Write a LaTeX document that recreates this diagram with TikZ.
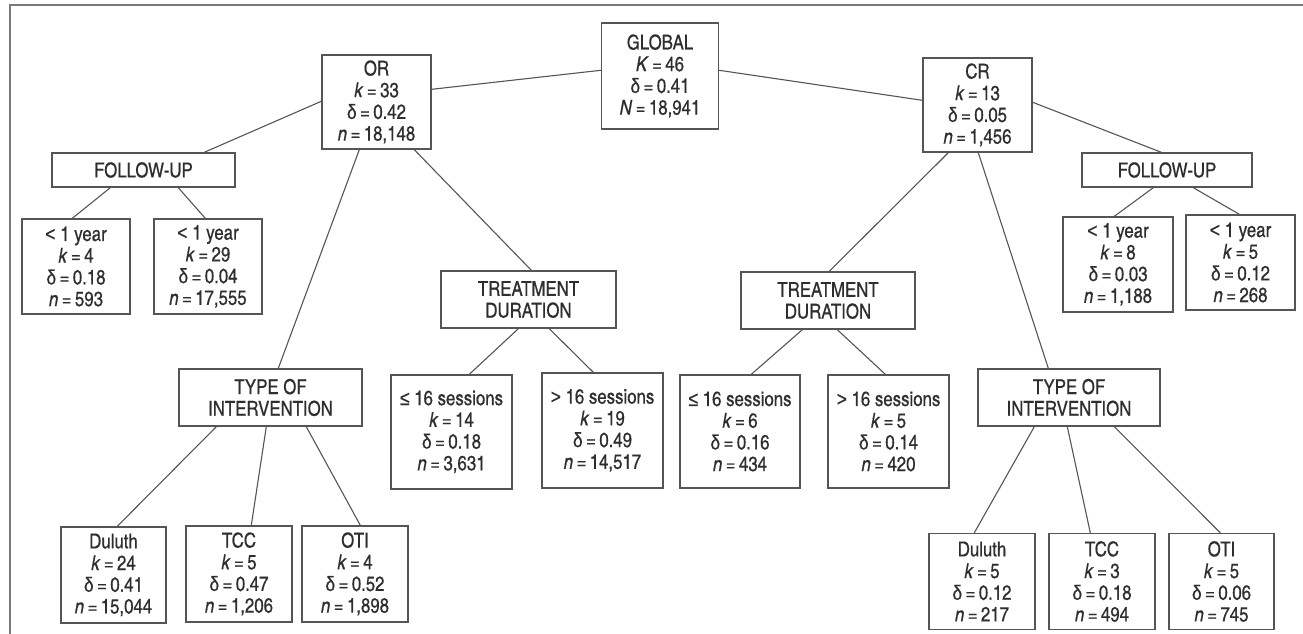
\documentclass[tikz,border=0pt]{standalone}
\usepackage{fontspec}
\setmainfont{texgyreheroscn}[Extension=.otf, UprightFont=*-regular, ItalicFont=*-italic, BoldFont=*-bold, UprightFeatures={FakeBold=0.5}, ItalicFeatures={FakeBold=0.5}]
\newfontfamily\symf{Liberation Sans}[FakeStretch=0.85, FakeBold=0.5]
\usetikzlibrary{calc}
\definecolor{txt}{HTML}{2E2E2E}
\definecolor{ln}{HTML}{555555}
\definecolor{frm}{HTML}{7A7A7A}
\tikzset{
  box/.style={draw=ln, line width=1.4pt, fill=white, inner sep=0pt, align=center, text=txt,
    font=\fontsize{20.5}{21.7}\selectfont},
  conn/.style={draw=ln, line width=1.1pt},
  frame/.style={draw=frm, line width=1.5pt}
}
\newcommand\kv[2]{\textit{#1}\,=\,#2}
\newcommand\dv[1]{{\symf δ}\,=\,#1}
\newcommand\lefour{{\symf ≤}}
\newcommand\lt{{\symf <}}
\newcommand\gt{{\symf >}}
\begin{document}
\begin{tikzpicture}[x=1pt,y=-1pt]
\useasboundingbox (0,0) rectangle (1303,634);
\draw[frame] (10,634) -- (10,5) -- (1303,5);

% root
\node[box, minimum width=117pt, minimum height=106pt] (glob) at (660,76) {GLOBAL\\\kv{K}{46}\\\dv{0.41}\\\kv{N}{18,941}};
% OR side
\node[box, minimum width=109pt, minimum height=94pt] (or) at (376.5,102) {OR\\\kv{k}{33}\\\dv{0.42}\\\kv{n}{18,148}};
\node[box, minimum width=183pt, minimum height=34pt] (fuL) at (143.5,170) {FOLLOW-UP};
\node[box, minimum width=108pt, minimum height=95pt] (y1L) at (76,266.5) {\lt\ 1 year\\\kv{k}{4}\\\dv{0.18}\\\kv{n}{593}};
\node[box, minimum width=108pt, minimum height=95pt] (y2L) at (208,266.5) {\lt\ 1 year\\\kv{k}{29}\\\dv{0.04}\\\kv{n}{17,555}};
\node[box, minimum width=175pt, minimum height=57pt] (tdL) at (528.5,299.5) {TREATMENT\\DURATION};
\node[box, minimum width=121pt, minimum height=114pt] (s1L) at (451.5,432) {\lefour\ 16 sessions\\\kv{k}{14}\\\dv{0.18}\\\kv{n}{3,631}};
\node[box, minimum width=121pt, minimum height=115pt] (s2L) at (602.5,430.5) {\gt\ 16 sessions\\\kv{k}{19}\\\dv{0.49}\\\kv{n}{14,517}};
\node[box, minimum width=183pt, minimum height=57pt] (toL) at (270.5,397.5) {TYPE OF\\INTERVENTION};
\node[box, minimum width=105pt, minimum height=96pt] (duL) at (113.5,575) {Duluth\\\kv{k}{24}\\\dv{0.41}\\\kv{n}{15,044}};
\node[box, minimum width=106pt, minimum height=96pt] (tcL) at (239,574) {TCC\\\kv{k}{5}\\\dv{0.47}\\\kv{n}{1,206}};
\node[box, minimum width=106pt, minimum height=96pt] (otL) at (355,574) {OTI\\\kv{k}{4}\\\dv{0.52}\\\kv{n}{1,898}};
% CR side
\node[box, minimum width=109pt, minimum height=94pt] (cr) at (977.5,105) {CR\\\kv{k}{13}\\\dv{0.05}\\\kv{n}{1,456}};
\node[box, minimum width=174pt, minimum height=57pt] (tdR) at (828,300.5) {TREATMENT\\DURATION};
\node[box, minimum width=120pt, minimum height=113pt] (s1R) at (740,431.5) {\lefour\ 16 sessions\\\kv{k}{6}\\\dv{0.16}\\\kv{n}{434}};
\node[box, minimum width=121pt, minimum height=113pt] (s2R) at (888.5,431.5) {\gt\ 16 sessions\\\kv{k}{5}\\\dv{0.14}\\\kv{n}{420}};
\node[box, minimum width=170pt, minimum height=34pt] (fuR) at (1167,170) {FOLLOW-UP};
\node[box, minimum width=110pt, minimum height=95pt] (y1R) at (1118,264.5) {\lt\ 1 year\\\kv{k}{8}\\\dv{0.03}\\\kv{n}{1,188}};
\node[box, minimum width=109pt, minimum height=95pt] (y2R) at (1240.5,262.5) {\lt\ 1 year\\\kv{k}{5}\\\dv{0.12}\\\kv{n}{268}};
\node[box, minimum width=182pt, minimum height=57pt] (toR) at (1069,397.5) {TYPE OF\\INTERVENTION};
\node[box, minimum width=106pt, minimum height=96pt] (duR) at (982,581.5) {Duluth\\\kv{k}{5}\\\dv{0.12}\\\kv{n}{217}};
\node[box, minimum width=106pt, minimum height=96pt] (tcR) at (1102,581.5) {TCC\\\kv{k}{3}\\\dv{0.18}\\\kv{n}{494}};
\node[box, minimum width=105pt, minimum height=96pt] (otR) at (1221.5,581.5) {OTI\\\kv{k}{5}\\\dv{0.06}\\\kv{n}{745}};

% connectors
\draw[conn] ($(glob.north west)+(0,48)$) -- ($(or.north east)+(0,35)$);
\draw[conn] ($(glob.north east)+(0,48)$) -- ($(cr.north west)+(0,43)$);
\draw[conn] ($(or.north west)+(0,47)$) -- ($(fuL.north west)+(153,0)$);
\draw[conn] ($(fuL.south west)+(59,0)$) -- ($(y1L.north west)+(51,0)$);
\draw[conn] ($(fuL.south west)+(127,0)$) -- ($(y2L.north west)+(52,0)$);
\draw[conn] ($(or.south west)+(38,0)$) -- ($(toL.north west)+(100,0)$);
\draw[conn] ($(or.south west)+(93,0)$) -- ($(tdL.north west)+(91,0)$);
\draw[conn] ($(tdL.south west)+(78,0)$) -- ($(s1L.north west)+(79,0)$);
\draw[conn] ($(tdL.south west)+(109,0)$) -- ($(s2L.north west)+(52,0)$);
\draw[conn] ($(toL.south west)+(38,0)$) -- ($(duL.north west)+(57,0)$);
\draw[conn] ($(toL.south west)+(88,0)$) -- ($(tcL.north west)+(66,0)$);
\draw[conn] ($(toL.south west)+(128,0)$) -- ($(otL.north west)+(59,0)$);
\draw[conn] ($(cr.south west)+(26,0)$) -- ($(tdR.north west)+(89,0)$);
\draw[conn] ($(cr.south west)+(56,0)$) -- ($(toR.north west)+(71,0)$);
\draw[conn] ($(cr.north east)+(0,45)$) -- ($(fuR.north west)+(80,0)$);
\draw[conn] ($(tdR.south west)+(62,0)$) -- ($(s1R.north west)+(72,0)$);
\draw[conn] ($(tdR.south west)+(97,0)$) -- ($(s2R.north west)+(58,0)$);
\draw[conn] ($(fuR.south west)+(72,0)$) -- ($(y1R.north west)+(52,0)$);
\draw[conn] ($(fuR.south west)+(112,0)$) -- ($(y2R.north west)+(54,0)$);
\draw[conn] ($(toR.south west)+(57,0)$) -- ($(duR.north west)+(46,0)$);
\draw[conn] ($(toR.south west)+(90,0)$) -- ($(tcR.north west)+(42,0)$);
\draw[conn] ($(toR.south west)+(137,0)$) -- ($(otR.north west)+(52,0)$);
\end{tikzpicture}
\end{document}
